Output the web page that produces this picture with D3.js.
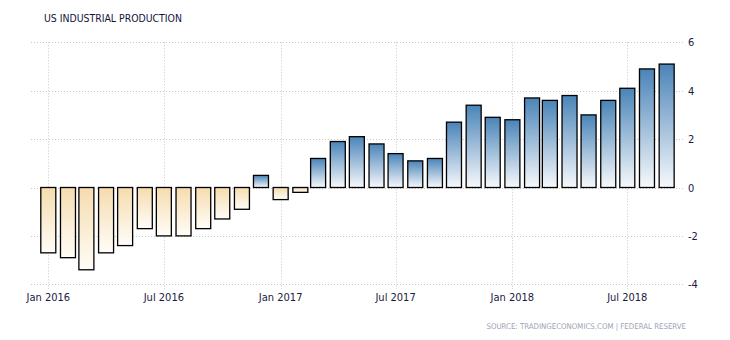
<!DOCTYPE html>
<html><head><meta charset="utf-8">
<script src="https://cdn.jsdelivr.net/npm/d3@7"></script>
<style>body{margin:0;background:#fff;}svg{display:block;}</style>
</head><body>
<svg id="c" width="730" height="340"></svg>
<script>
const months = ["2016-01","2016-02","2016-03","2016-04","2016-05","2016-06","2016-07","2016-08","2016-09","2016-10","2016-11","2016-12",
"2017-01","2017-02","2017-03","2017-04","2017-05","2017-06","2017-07","2017-08","2017-09","2017-10","2017-11","2017-12",
"2018-01","2018-02","2018-03","2018-04","2018-05","2018-06","2018-07","2018-08","2018-09"];
const values = [-2.7,-2.9,-3.4,-2.7,-2.4,-1.7,-2.0,-2.0,-1.7,-1.3,-0.9,0.5,
-0.5,-0.2,1.2,1.9,2.1,1.8,1.4,1.1,1.2,2.7,3.4,2.9,
2.8,3.7,3.6,3.8,3.0,3.6,4.1,4.9,5.1];
const yTicks = [6,4,2,0,-2,-4];
const xTicks = ["2016-01","2016-07","2017-01","2017-07","2018-01","2018-07"];
const title = "US INDUSTRIAL PRODUCTION";
const source = "SOURCE: TRADINGECONOMICS.COM | FEDERAL RESERVE";

const parse = d3.utcParse("%Y-%m");
const svg = d3.select("#c");
const x = d3.scaleUtc().domain([parse("2016-01"), parse("2018-07")]).range([48.3, 627.3]);
const y = d3.scaleLinear().domain([-4, 6]).range([284.3, 42.3]);
const barW = 15;

const defs = svg.append("defs");
const gp = defs.append("linearGradient").attr("id","gpos").attr("x1",0).attr("y1",0).attr("x2",0).attr("y2",1);
gp.append("stop").attr("offset","0%").attr("stop-color","#4a84b8");
gp.append("stop").attr("offset","100%").attr("stop-color","#f7f9fc");
const gn = defs.append("linearGradient").attr("id","gneg").attr("x1",0).attr("y1",0).attr("x2",0).attr("y2",1);
gn.append("stop").attr("offset","0%").attr("stop-color","#f5dcae");
gn.append("stop").attr("offset","100%").attr("stop-color","#fffdf8");

// grid
const grid = svg.append("g");
grid.selectAll("line.h").data(yTicks).join("line")
  .attr("x1",31).attr("x2",685).attr("y1",d=>Math.round(y(d))+0.5).attr("y2",d=>Math.round(y(d))+0.5)
  .attr("stroke","#c8c8c8").attr("stroke-dasharray","1,2");
grid.selectAll("line.v").data(xTicks).join("line")
  .attr("x1",d=>Math.round(x(parse(d)))+0.5).attr("x2",d=>Math.round(x(parse(d)))+0.5)
  .attr("y1",42.3).attr("y2",289)
  .attr("stroke","#c8c8c8").attr("stroke-dasharray","1,2");

// bars
svg.append("g").selectAll("rect").data(months.map((m,i)=>({m:parse(m),v:values[i]}))).join("rect")
  .attr("x",d=>x(d.m)-barW/2)
  .attr("y",d=>y(Math.max(0,d.v)))
  .attr("width",barW)
  .attr("height",d=>Math.abs(y(d.v)-y(0)))
  .attr("fill",d=>d.v>=0?"url(#gpos)":"url(#gneg)")
  .attr("stroke","#000").attr("stroke-width",1.3);

// axes labels
const font = "'DejaVu Sans Condensed', 'DejaVu Sans', sans-serif";
svg.append("g").selectAll("text").data(yTicks).join("text")
  .attr("x",688).attr("y",d=>y(d)+4)
  .attr("font-family",font).attr("font-size",11).attr("fill","#1a1a40")
  .text(d=>d);
const fmt = d3.utcFormat("%b %Y");
svg.append("g").selectAll("text").data(xTicks).join("text")
  .attr("x",d=>x(parse(d))).attr("y",301).attr("text-anchor","middle")
  .attr("font-family",font).attr("font-size",11).attr("fill","#1a1a40")
  .text(d=>fmt(parse(d)));

svg.append("text").attr("x",44).attr("y",22)
  .attr("font-family",font).attr("font-size",10.4).attr("fill","#14143a")
  .text(title);
svg.append("text").attr("x",686).attr("y",329).attr("text-anchor","end")
  .attr("font-family",font).attr("font-size",7.8).attr("fill","#9aa3b5")
  .text(source);
</script>
</body></html>
